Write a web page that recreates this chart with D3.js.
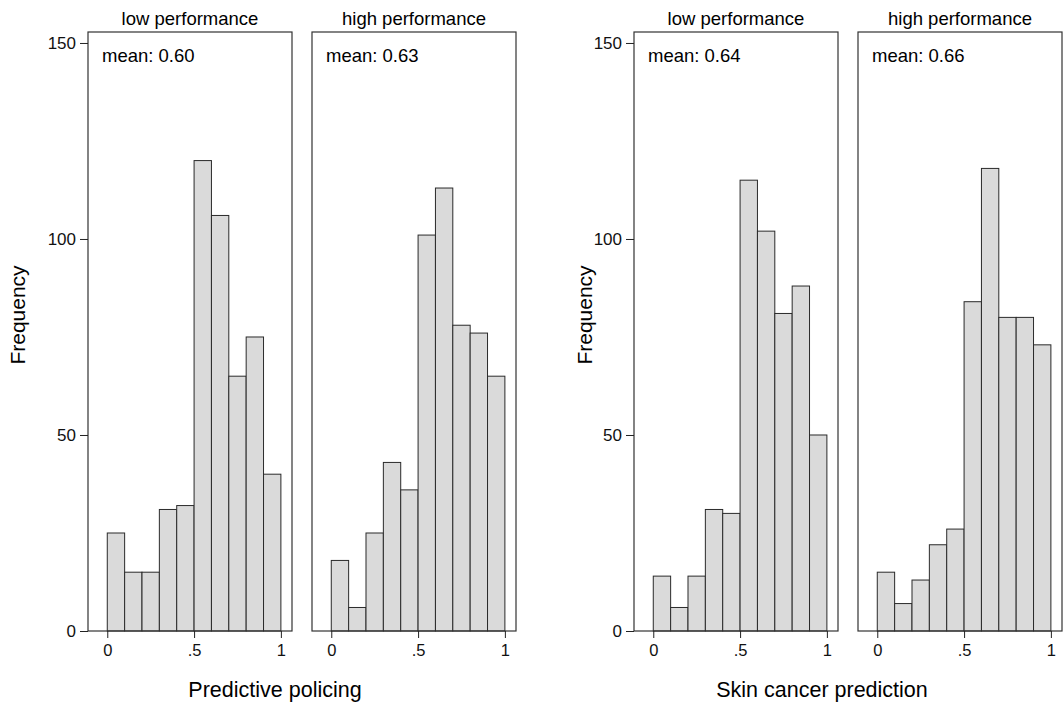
<!DOCTYPE html>
<head>
    <meta charset="utf-8">
    <title>Histograms by performance</title>
    <style>
        body { margin: 0; background: #fff; }
        svg { font-family: "Liberation Sans", Arial, sans-serif; }
        .tick line { stroke: #222; }
        .tick text { fill: #111; }
    </style>
</head>

<body>

<svg width="1064" height="703"></svg>

<script src="https://d3js.org/d3.v7.min.js"></script>

<script>
    // bin edges shared by every histogram
    const binEdges = [0, 0.1, 0.2, 0.3, 0.4, 0.5, 0.6, 0.7, 0.8, 0.9, 1.0];

    const panelTitles = ["low performance", "high performance"];

    const policingLow = [25, 15, 15, 31, 32, 120, 106, 65, 75, 40];
    const policingHigh = [18, 6, 25, 43, 36, 101, 113, 78, 76, 65];
    const skinLow = [14, 6, 14, 31, 30, 115, 102, 81, 88, 50];
    const skinHigh = [15, 7, 13, 22, 26, 84, 118, 80, 80, 73];

    const means = ["0.60", "0.63", "0.64", "0.66"];
    const chartTitles = ["Predictive policing", "Skin cancer prediction"];

    const xTicks = [0, 0.5, 1];
    const yTicks = [0, 50, 100, 150];

    const svg = d3.select("svg");

    const panelW = 204;
    const plotTop = 32, plotBottom = 631;

    const y = d3.scaleLinear().domain([0, 152.8]).range([plotBottom, plotTop]);

    const charts = [
        { title: chartTitles[0], left: 88, titleX: 275, freqX: 25, series: [policingLow, policingHigh], means: means.slice(0, 2) },
        { title: chartTitles[1], left: 634, titleX: 822, freqX: 592, series: [skinLow, skinHigh], means: means.slice(2, 4) }
    ];

    charts.forEach(chart => {

        chart.series.forEach((counts, i) => {
            const x0 = chart.left + i * (panelW + 20);
            const x = d3.scaleLinear().domain([-0.111, 1.064]).range([x0, x0 + panelW]);

            const bins = counts.map((c, j) => ({ x0: binEdges[j], x1: binEdges[j + 1], n: c }));

            const g = svg.append("g");

            g.selectAll("rect.bar")
                .data(bins)
                .enter().append("rect")
                .attr("class", "bar")
                .attr("x", d => x(d.x0))
                .attr("width", d => x(d.x1) - x(d.x0))
                .attr("y", d => y(d.n))
                .attr("height", d => y(0) - y(d.n))
                .attr("fill", "#dadada")
                .attr("stroke", "#2a2a2a")
                .attr("stroke-width", 1);

            // panel frame
            g.append("rect")
                .attr("x", x0)
                .attr("y", plotTop)
                .attr("width", panelW)
                .attr("height", plotBottom - plotTop)
                .attr("fill", "none")
                .attr("stroke", "#333")
                .attr("stroke-width", 1.2);

            g.append("g")
                .attr("transform", `translate(0, ${plotBottom})`)
                .call(d3.axisBottom(x).tickValues(xTicks).tickSize(7).tickPadding(6)
                    .tickFormat(d => d === 0.5 ? ".5" : String(d)))
                .call(a => a.select(".domain").remove())
                .selectAll("text")
                .style("font-size", "16.5px");

            if (i === 0) {
                g.append("g")
                    .attr("transform", `translate(${x0}, 0)`)
                    .call(d3.axisLeft(y).tickValues(yTicks).tickSize(8).tickPadding(4))
                    .call(a => a.select(".domain").remove())
                    .selectAll("text")
                    .style("font-size", "17px");
            }

            g.append("text")
                .attr("x", x0 + panelW / 2)
                .attr("y", 25)
                .attr("text-anchor", "middle")
                .style("font-size", "18.5px")
                .text(panelTitles[i]);

            g.append("text")
                .attr("x", x0 + 14)
                .attr("y", 62)
                .style("font-size", "18.5px")
                .text("mean: " + chart.means[i]);
        });

        svg.append("text")
            .attr("transform", `translate(${chart.freqX}, 315) rotate(-90)`)
            .attr("text-anchor", "middle")
            .style("font-size", "21px")
            .text("Frequency");

        svg.append("text")
            .attr("x", chart.titleX)
            .attr("y", 697)
            .attr("text-anchor", "middle")
            .style("font-size", "21.5px")
            .text(chart.title);
    });

</script>

</body>
